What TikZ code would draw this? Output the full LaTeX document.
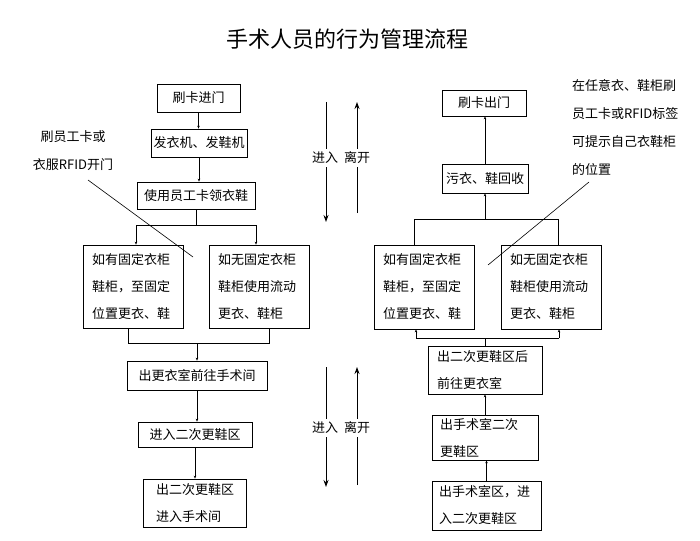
\documentclass[tikz,border=0pt]{standalone}
\usepackage{fontspec}
\setmainfont{Noto Sans CJK SC}
\usetikzlibrary{arrows.meta}
\begin{document}
\begin{tikzpicture}[x=1pt,y=-1pt,
  box/.style={draw, line width=0.7pt, inner sep=0pt, font=\fontsize{13}{27}\selectfont, align=center},
  mbox/.style={box, align=left},
  flow/.style={line width=0.6pt, -{Stealth[length=3pt,width=2.5pt]}},
  plain/.style={line width=0.6pt},
  bigarrow/.style={line width=0.9pt, -{Stealth[length=7pt,width=5pt]}},
  lbl/.style={fill=white, font=\fontsize{13}{16}\selectfont, inner xsep=1pt, inner ysep=3pt},
  note/.style={font=\fontsize{13}{28}\selectfont, inner sep=0pt}]
\useasboundingbox (0,0) rectangle (700,540);
% title
\node[font=\fontsize{22}{26}\selectfont] (t) at (347,39) {手术人员的行为管理流程};
% left column
\node[box, minimum width=83pt, minimum height=28pt] (a1) at (198.5,98) {刷卡进门};
\node[box, minimum width=96pt, minimum height=28pt] (a2) at (199,143) {发衣机、发鞋机};
\node[box, minimum width=118pt, minimum height=27pt] (a3) at (196,195.5) {使用员工卡领衣鞋};
\node[mbox, text width=82pt, inner xsep=9pt, minimum height=83pt] (a4) at (133,286.5) {如有固定衣柜\\鞋柜，至固定\\位置更衣、鞋};
\node[mbox, text width=82pt, inner xsep=9pt, minimum height=83pt] (a5) at (259,286.5) {如无固定衣柜\\鞋柜使用流动\\更衣、鞋柜};
\node[box, minimum width=140pt, minimum height=29pt] (a6) at (197,375.5) {出更衣室前往手术间};
\node[box, minimum width=114pt, minimum height=25pt] (a7) at (195,434.5) {进入二次更鞋区};
\node[mbox, text width=77pt, inner xsep=13pt, minimum height=48pt] (a8) at (194.5,503) {出二次更鞋区\\进入手术间};
% right column
\node[box, minimum width=84pt, minimum height=26pt] (b1) at (484,103) {刷卡出门};
\node[box, minimum width=86pt, minimum height=29pt] (b2) at (485,178.5) {污衣、鞋回收};
\node[mbox, text width=82pt, inner xsep=9pt, minimum height=84pt] (b3) at (424,287) {如有固定衣柜\\鞋柜，至固定\\位置更衣、鞋};
\node[mbox, text width=82pt, inner xsep=9pt, minimum height=84pt] (b4) at (551,287) {如无固定衣柜\\鞋柜使用流动\\更衣、鞋柜};
\node[mbox, text width=96pt, inner xsep=9pt, minimum height=48pt] (b5) at (485,370) {出二次更鞋区后\\前往更衣室};
\node[mbox, text width=90pt, inner xsep=8pt, minimum height=45pt] (b6) at (485,437.5) {出手术室二次\\更鞋区};
\node[mbox, text width=95pt, inner xsep=7pt, minimum height=49pt] (b7) at (486.5,505.5) {出手术室区，进\\入二次更鞋区};
% left connectors
\draw[flow] (a1.south) -- (a1.south |- a2.north);
\draw[flow] (a2.south) -- (a2.south |- a3.north);
\coordinate (tl) at (136,225);
\coordinate (tr) at (256,225);
\draw[plain] (a3.south) -- (a3.south |- tl);
\draw[plain] (tl) -- (tr);
\draw[flow] (tl) -- (tl |- a4.north);
\draw[flow] (tr) -- (tr |- a5.north);
\coordinate (ul) at (128,343);
\coordinate (ur) at (269,343);
\coordinate (um) at (197,343);
\draw[plain] (ul |- a4.south) -- (ul) -- (ur) -- (ur |- a5.south);
\draw[flow] (um) -- (um |- a6.north);
\draw[flow] (a6.south) -- (a6.south |- a7.north);
\draw[flow] (a7.south) -- (a7.south |- a8.north);
% right connectors
\draw[flow] (b2.north) -- (b2.north |- b1.south);
\coordinate (rl) at (414,219);
\coordinate (rr) at (558,219);
\coordinate (rm) at (485,219);
\draw[plain] (rl |- b3.north) -- (rl) -- (rr) -- (rr |- b4.north);
\draw[flow] (rm) -- (rm |- b2.south);
\coordinate (sl) at (416,338);
\coordinate (sr) at (559,338);
\coordinate (sm) at (485,338);
\draw[plain] (sl) -- (sr);
\draw[flow] (sl) -- (sl |- b3.south);
\draw[flow] (sr) -- (sr |- b4.south);
\draw[plain] (b5.north) -- (b5.north |- sm);
\draw[flow] (b6.north) -- (b6.north |- b5.south);
\draw[flow] (b7.north) -- (b7.north |- b6.south);
% middle arrows
\coordinate (d1s) at (326,102);
\coordinate (d1e) at (326,222);
\coordinate (u1s) at (357,213);
\coordinate (u1e) at (357,102);
\draw[bigarrow] (d1s) -- (d1e);
\draw[bigarrow] (u1s) -- (u1e);
\node[lbl] (l1) at (325,158) {进入};
\node[lbl] (l2) at (357,158) {离开};
\coordinate (d2s) at (326,367);
\coordinate (d2e) at (326,487);
\coordinate (u2s) at (357,485);
\coordinate (u2e) at (357,367);
\draw[bigarrow] (d2s) -- (d2e);
\draw[bigarrow] (u2s) -- (u2e);
\node[lbl] (l3) at (325,428) {进入};
\node[lbl] (l4) at (357,428) {离开};
% notes
\node[note, align=center] (n1) at (73,151) {刷员工卡或\\衣服RFID开门};
\coordinate (n1s) at (88,180);
\coordinate (n1e) at (193,257);
\draw[plain] (n1s) -- (n1e);
\node[note, align=left, anchor=west] (n2) at (572,127.5) {在任意衣、鞋柜刷\\员工卡或RFID标签\\可提示自己衣鞋柜\\的位置};
\coordinate (n2s) at (589,182);
\coordinate (n2e) at (488,265);
\draw[plain] (n2s) -- (n2e);
\end{tikzpicture}
\end{document}
